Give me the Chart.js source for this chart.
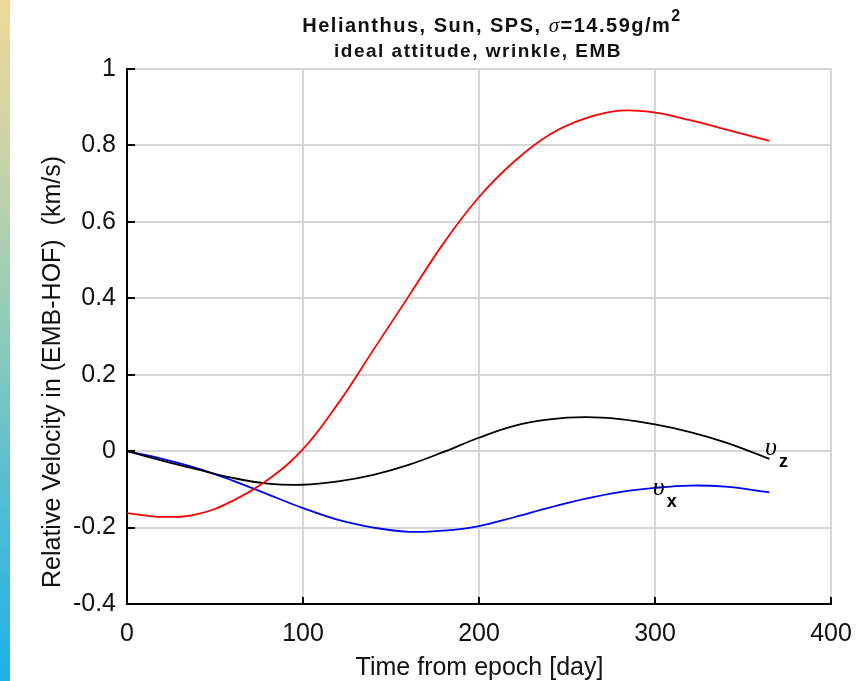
<!DOCTYPE html>
<html>
<head>
<meta charset="utf-8">
<script src="https://cdn.jsdelivr.net/npm/chart.js@4.4.1/dist/chart.umd.min.js"></script>
<style>
  html, body { margin: 0; padding: 0; background: #fff; }
  #wrap { width: 863px; height: 681px; position: relative; }
</style>
</head>
<body>
<div id="wrap"><canvas id="c" width="863" height="681"></canvas></div>
<script>
// days from epoch
var days = [0, 20, 40, 60, 80, 100, 120, 140, 160, 180, 200, 220, 240, 260, 280, 300, 320, 340, 365];
// relative velocity components (km/s)
var vyVals = [-0.162, -0.172, -0.165, -0.13, -0.075, 0.005, 0.125, 0.265, 0.405, 0.545, 0.665, 0.758, 0.828, 0.87, 0.891, 0.886, 0.866, 0.842, 0.812];
var vzVals = [0, -0.025, -0.048, -0.07, -0.085, -0.088, -0.079, -0.062, -0.036, -0.002, 0.035, 0.066, 0.083, 0.089, 0.084, 0.07, 0.05, 0.023, -0.02];
var vxVals = [0, -0.02, -0.045, -0.077, -0.113, -0.149, -0.18, -0.2, -0.211, -0.208, -0.196, -0.173, -0.148, -0.125, -0.107, -0.096, -0.09, -0.093, -0.108];

var xTicks = [0, 100, 200, 300, 400];
var yTicks = [-0.4, -0.2, 0, 0.2, 0.4, 0.6, 0.8, 1];

// curve labels (data coordinates)
var curveLabels = [
  {sub: 'z', x: 362.5, y: 0.005},
  {sub: 'x', x: 298.7, y: -0.098}
];

function pts(vals) {
  return days.map(function (d, i) { return {x: d, y: vals[i]}; });
}

var SANS = '"Liberation Sans", Arial, sans-serif';

var extras = {
  id: 'extras',
  beforeDraw: function (chart) {
    var ctx = chart.ctx;
    ctx.save();
    ctx.fillStyle = '#fff';
    ctx.fillRect(0, 0, chart.width, chart.height);
    var g = ctx.createLinearGradient(0, 0, 0, chart.height);
    g.addColorStop(0, '#efd998');
    g.addColorStop(0.2, '#cfd4a6');
    g.addColorStop(0.45, '#97cdb6');
    g.addColorStop(0.75, '#4fbcd6');
    g.addColorStop(1, '#1fb1e6');
    ctx.fillStyle = g;
    ctx.fillRect(0, 0, 10, chart.height);
    ctx.restore();
  },
  afterDraw: function (chart) {
    var ctx = chart.ctx;
    var xs = chart.scales.x, ys = chart.scales.y;
    var a = chart.chartArea;
    ctx.save();
    // inward tick marks
    ctx.strokeStyle = '#000';
    ctx.lineWidth = 2;
    ctx.beginPath();
    yTicks.forEach(function (v) {
      var py = Math.round(ys.getPixelForValue(v));
      ctx.moveTo(a.left, py); ctx.lineTo(a.left + 8, py);
    });
    xTicks.forEach(function (v) {
      var px = Math.round(xs.getPixelForValue(v));
      ctx.moveTo(px, a.bottom); ctx.lineTo(px, a.bottom - 7);
    });
    ctx.stroke();

    ctx.fillStyle = '#111';
    // title
    ctx.textBaseline = 'alphabetic';
    ctx.textAlign = 'left';
    var bold = 'bold 20px ' + SANS;
    var parts = [
      {t: 'Helianthus, Sun, SPS, ', f: bold, dy: 0},
      {t: '\u03c3', f: 'italic 21px "Liberation Serif", serif', dy: 0},
      {t: '=14.59g/m', f: bold, dy: 0},
      {t: '2', f: 'bold 16px ' + SANS, dy: -11}
    ];
    ctx.letterSpacing = '1.5px';
    var total = 0;
    parts.forEach(function (p) { ctx.font = p.f; p.w = ctx.measureText(p.t).width; total += p.w; });
    var x0 = 492 - total / 2;
    parts.forEach(function (p) { ctx.font = p.f; ctx.fillText(p.t, x0, 32 + p.dy); x0 += p.w; });
    ctx.font = 'bold 19px ' + SANS;
    ctx.textAlign = 'center';
    ctx.fillText('ideal attitude, wrinkle, EMB', 478, 56.5);
    ctx.letterSpacing = '0px';

    // axis titles
    ctx.font = '25px ' + SANS;
    ctx.textAlign = 'center';
    ctx.fillText('Time from epoch [day]', 479.5, 675);
    ctx.save();
    ctx.translate(60, 372);
    ctx.rotate(-Math.PI / 2);
    ctx.fillText('Relative Velocity in (EMB-HOF)  (km/s)', 0, 0);
    ctx.restore();

    // curve labels
    ctx.fillStyle = '#000';
    ctx.textAlign = 'left';
    curveLabels.forEach(function (l) {
      var px = xs.getPixelForValue(l.x), py = ys.getPixelForValue(l.y);
      ctx.font = 'italic 26px "Liberation Serif", serif';
      ctx.fillText('\u03c5', px, py + 6);
      ctx.font = 'bold 18px ' + SANS;
      ctx.fillText(l.sub, px + 14, py + 18);
    });
    ctx.restore();
  }
};

function fmt(v) {
  var s = Number(v.toFixed(1));
  if (Math.abs(s) < 1e-9) return '0';
  return String(s);
}

new Chart(document.getElementById('c'), {
  type: 'line',
  data: {
    datasets: [
      {label: 'vy', data: pts(vyVals), borderColor: '#ff0000', borderWidth: 1.8},
      {label: 'vz', data: pts(vzVals), borderColor: '#000000', borderWidth: 1.8},
      {label: 'vx', data: pts(vxVals), borderColor: '#0000ff', borderWidth: 1.8}
    ]
  },
  options: {
    responsive: false,
    animation: false,
    elements: {point: {radius: 0}, line: {tension: 0.4, cubicInterpolationMode: 'default'}},
    layout: {padding: {left: 0, right: 32, top: 69, bottom: 0}},
    plugins: {legend: {display: false}, title: {display: false}, tooltip: {enabled: false}},
    scales: {
      x: {
        type: 'linear', min: 0, max: 400,
        afterFit: function (s) { s.height = 77; s.paddingLeft = 0; s.paddingRight = 0; },
        afterBuildTicks: function (s) { s.ticks = xTicks.map(function (v) { return {value: v}; }); },
        grid: {color: '#d6d6d6', lineWidth: 2, drawTicks: false},
        border: {display: true, color: '#000', width: 2},
        ticks: {padding: 15, color: '#111', font: {family: SANS, size: 25}, maxRotation: 0, callback: function (v) { return String(v); }}
      },
      y: {
        type: 'linear', min: -0.4, max: 1,
        afterFit: function (s) { s.width = 127; s.paddingTop = 0; s.paddingBottom = 0; },
        afterBuildTicks: function (s) { s.ticks = yTicks.map(function (v) { return {value: v}; }); },
        grid: {color: '#d6d6d6', lineWidth: 2, drawTicks: false},
        border: {display: true, color: '#000', width: 2},
        ticks: {padding: 11, color: '#111', font: {family: SANS, size: 25}, callback: function (v) { return fmt(v); }}
      }
    }
  },
  plugins: [extras]
});
</script>
</body>
</html>
